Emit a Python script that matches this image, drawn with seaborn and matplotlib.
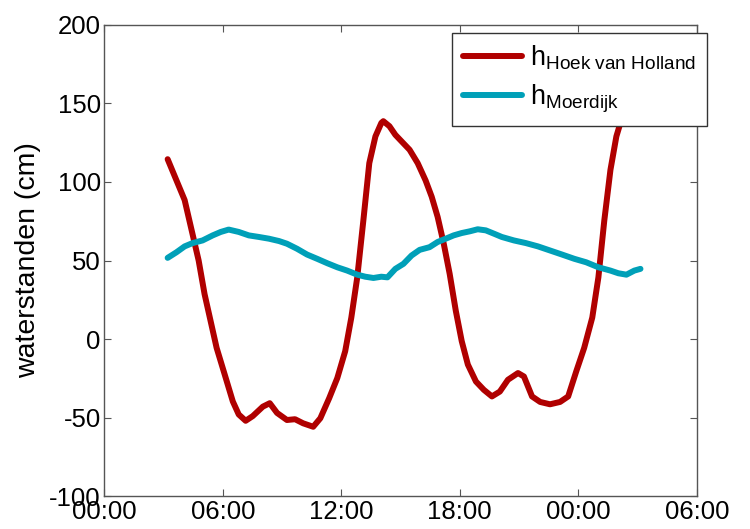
import matplotlib
matplotlib.use('Agg')
import matplotlib.pyplot as plt
import seaborn as sns
import pandas as pd

# tijd in uren vanaf 00:00 van dag 1
uren_hvh = [3.21, 4.07, 4.43, 4.78, 5.08, 5.69, 6.10, 6.51, 6.81, 7.16, 7.52, 8.03, 8.38,
            8.75, 9.25, 9.66, 10.07, 10.58, 10.94, 11.39, 11.8, 12.2, 12.51, 12.81, 13.12,
            13.42, 13.73, 14.03, 14.13, 14.44, 14.74, 15.05, 15.46, 15.87, 16.27, 16.58,
            16.88, 17.19, 17.49, 17.8, 18.1, 18.41, 18.82, 19.22, 19.63, 20.03, 20.44,
            20.95, 21.25, 21.66, 22.07, 22.57, 23.08, 23.49, 23.9, 24.3, 24.71, 25.02,
            25.32, 25.63, 25.93, 26.24, 26.6, 26.9, 27.15]
h_hvh = [114.5, 88.5, 69, 50, 28.6, -5.6, -22.6, -39.7, -48, -52, -49, -43, -40.8,
         -47, -51.5, -51, -53.6, -55.8, -50.4, -37.6, -24.8, -7.7, 13.7, 39.3, 75.6,
         112, 129, 137.6, 138.7, 135.5, 130, 125.9, 120.5, 112, 101, 90.6,
         77.8, 60.7, 41.5, 18, -1.3, -16.2, -27, -32.3, -36.5, -33.4, -25.9,
         -21.6, -23.8, -36.5, -40, -41.5, -40, -36.5, -20.5, -5.6, 13.7, 39.3,
         75.6, 107.7, 129, 142, 158, 170, 178]

uren_moe = [3.21, 3.66, 4.07, 4.47, 4.98, 5.49, 5.9, 6.3, 6.81, 7.32, 7.83, 8.34, 8.85,
            9.25, 9.76, 10.27, 10.78, 11.29, 11.8, 12.3, 12.81, 13.22, 13.63, 14.03,
            14.34, 14.74, 15.15, 15.56, 15.97, 16.47, 16.88, 17.29, 17.69, 18.1, 18.51,
            18.91, 19.32, 19.73, 20.13, 20.74, 21.35, 21.96, 22.57, 23.18, 23.8, 24.4,
            25.02, 25.63, 26.03, 26.44, 26.84, 27.15]
h_moe = [51.7, 55.3, 59, 61.1, 62.8, 66, 68.2, 69.7, 68.2, 66, 65, 63.9, 62.4,
         60.7, 57.5, 53.8, 51.1, 48.3, 45.7, 43.6, 41, 39.7, 38.9, 39.7,
         39.3, 44.7, 47.9, 53.2, 56.8, 58.5, 61.8, 63.9, 66, 67.5, 68.6,
         69.9, 69.2, 67.1, 65, 62.8, 61.1, 59, 56.4, 53.8, 51.1, 48.9,
         45.7, 43.6, 41.9, 41, 43.6, 44.7]

x_ticks = [0, 6, 12, 18, 24, 30]
x_labels = ['00:00', '06:00', '12:00', '18:00', '00:00', '06:00']
y_ticks = [-100, -50, 0, 50, 100, 150, 200]

rood = '#b00000'
cyaan = '#00a0b8'

sns.set_style('ticks')
plt.rcParams['font.family'] = ['Liberation Sans', 'DejaVu Sans']
plt.rcParams['mathtext.fontset'] = 'custom'
plt.rcParams['mathtext.rm'] = 'Liberation Sans'
plt.rcParams['mathtext.it'] = 'Liberation Sans'
plt.rcParams['axes.unicode_minus'] = False
plt.rcParams['text.color'] = 'black'
plt.rcParams['xtick.labelcolor'] = 'black'
plt.rcParams['ytick.labelcolor'] = 'black'
plt.rcParams['axes.labelcolor'] = 'black'

fig = plt.figure(figsize=(7.5, 5.29), dpi=100)
ax = fig.add_axes([0.139, 0.062, 0.79, 0.891])

df_hvh = pd.DataFrame({'uur': uren_hvh, 'h': h_hvh})
df_moe = pd.DataFrame({'uur': uren_moe, 'h': h_moe})
sns.lineplot(data=df_hvh, x='uur', y='h', ax=ax, color=rood, lw=4.3,
             label=r'h$_{\mathrm{Hoek\ van\ Holland}}$')
sns.lineplot(data=df_moe, x='uur', y='h', ax=ax, color=cyaan, lw=4.3,
             label=r'h$_{\mathrm{Moerdijk}}$')

ax.set_xlim(0, 30)
ax.set_ylim(-100, 200)
ax.set_xticks(x_ticks)
ax.set_xticklabels(x_labels)
ax.set_yticks(y_ticks)
ax.set_xlabel('')
ax.set_ylabel('waterstanden (cm)', fontsize=20.5, labelpad=6)
ax.tick_params(direction='in', top=True, right=True, labelsize=18.5, length=5,
               color='#555555', pad=2.5)
for s in ax.spines.values():
    s.set_visible(True)
    s.set_color('#555555')
    s.set_linewidth(1)

leg = ax.legend(loc='upper right', bbox_to_anchor=(0.943, 0.938),
                bbox_transform=fig.transFigure, fontsize=19.5, frameon=True,
                fancybox=False, handlelength=2.2, handletextpad=0.3,
                borderpad=0.4, borderaxespad=0, labelspacing=0.4)
leg.get_frame().set_edgecolor('#333333')
leg.get_frame().set_linewidth(1)
leg.get_frame().set_alpha(1)

fig.savefig('out.png', dpi=100)
